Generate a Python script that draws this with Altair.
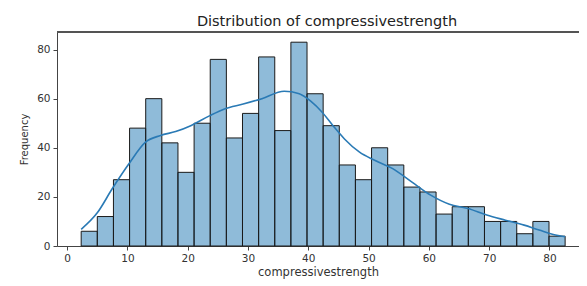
import altair as alt
import numpy as np
import pandas as pd

# Histogram counts (30 bins between min and max of compressivestrength)
data_min = 2.33
data_max = 82.6
counts = [6, 12, 27, 48, 60, 42, 30, 50, 76, 44,
          54, 77, 47, 83, 62, 49, 33, 27, 40, 33,
          24, 22, 13, 16, 16, 10, 10, 5, 10, 4]

# KDE curve (count scale)
kde_x = [2.33, 5.0, 7.5, 10.25, 13.0, 15.5, 18.0, 20.5, 23.6, 26.1, 29.2, 32.3,
         36.0, 38.5, 40.4, 42.3, 44.1, 46.0, 48.5, 51.0, 54.0, 57.2, 60.3, 63.4,
         66.5, 69.6, 72.7, 75.8, 78.3, 81.0, 82.6]
kde_y = [6.8, 13.5, 23.4, 33.5, 42.3, 45.0, 46.6, 49.0, 53.0, 55.8, 57.8, 60.0,
         63.0, 62.0, 59.0, 54.5, 49.0, 43.6, 38.2, 34.9, 31.5, 26.0, 20.7, 17.0,
         15.3, 12.6, 10.5, 8.5, 6.5, 4.5, 3.8]

x_ticks = [0, 10, 20, 30, 40, 50, 60, 70, 80]
y_ticks = [0, 10, 20, 30, 40, 50, 60, 70, 80]

edges = np.linspace(data_min, data_max, len(counts) + 1)
bars_df = pd.DataFrame({"start": edges[:-1], "end": edges[1:], "count": counts})
kde_df = pd.DataFrame({"x": kde_x, "y": kde_y})

W, H = 522, 214
FONT = "DejaVu Sans"
xscale = alt.Scale(domain=[-1.68, 84.9], nice=False, zero=False)
yscale = alt.Scale(domain=[0, 87.15], nice=False)

bars = alt.Chart(bars_df).mark_rect(
    fill="#1f77b4", fillOpacity=0.5, stroke="#1a1a1a", strokeWidth=1
).encode(
    x=alt.X("start:Q", scale=xscale,
            axis=alt.Axis(values=x_ticks, title="compressivestrength", format="d",
                          titleFontSize=11.5)),
    x2="end:Q",
    y=alt.Y("count:Q", scale=yscale,
            axis=alt.Axis(values=y_ticks, title="Frequency", format="d",
                          titleFontSize=10)),
    y2=alt.datum(0),
)

line = alt.Chart(kde_df).mark_line(
    color="#2a7ab5", strokeWidth=1.6, interpolate="monotone"
).encode(
    x=alt.X("x:Q", scale=xscale),
    y=alt.Y("y:Q", scale=yscale),
)

top = alt.Chart(bars_df).mark_rule(color="#555555", strokeWidth=1).encode(
    x=alt.value(0), x2=alt.value(W + 10), y=alt.value(0)
)

chart = alt.layer(bars, line, top).properties(
    width=W, height=H,
    autosize=alt.AutoSizeParams(type="none"),
    padding={"left": 49, "top": 24, "right": 0, "bottom": 33},
    title=alt.TitleParams(
        "Distribution of compressivestrength",
        font=FONT, fontSize=14.5, fontWeight="normal", color="#222222",
        anchor="middle", offset=2, dx=9,
    ),
).configure_view(stroke=None).configure_axis(
    grid=False,
    domainColor="#444444", domainWidth=1,
    tickColor="#444444", tickSize=4, tickWidth=1,
    labelFont=FONT, labelFontSize=10.5, labelColor="#333333", labelPadding=3,
    titleFont=FONT, titleFontWeight="normal", titleColor="#333333",
).configure_axisY(titlePadding=7).configure_axisX(titlePadding=3)

chart.save("out.html", embed_options={"renderer": "svg", "actions": False})
